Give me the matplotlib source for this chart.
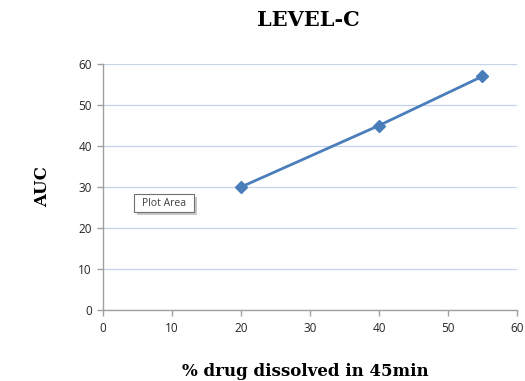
import matplotlib
matplotlib.use("Agg")
import matplotlib.pyplot as plt
from matplotlib.patches import FancyBboxPatch

# Data
dissolved = [20, 40, 55]
auc = [30, 45, 57]
x_ticks = [0, 10, 20, 30, 40, 50, 60]
y_ticks = [0, 10, 20, 30, 40, 50, 60]

W, H = 525, 381
fig = plt.figure(figsize=(W / 100, H / 100), dpi=100)
fig.patch.set_facecolor("white")

# axes box in pixels: left 103, right 517, top 64, bottom 310
ax = fig.add_axes([103 / W, 1 - 310 / H, (517 - 103) / W, (310 - 64) / H])
ax.set_xlim(0, 60)
ax.set_ylim(0, 60)
ax.set_xticks(x_ticks)
ax.set_yticks(y_ticks)

ax.grid(axis="y", color="#c5d3ea", linewidth=0.9)
ax.set_axisbelow(True)
for s in ["top", "right"]:
    ax.spines[s].set_visible(False)
for s in ["left", "bottom"]:
    ax.spines[s].set_color("#a0a0a0")
    ax.spines[s].set_linewidth(1.0)
ax.tick_params(axis="both", colors="#a0a0a0", length=4, width=1.0,
               labelcolor="#262626", labelsize=8.5)
for lab in ax.get_xticklabels() + ax.get_yticklabels():
    lab.set_family("Open Sans")
ax.tick_params(axis="x", pad=5)
ax.tick_params(axis="y", pad=4)

ax.plot(dissolved, auc, color="#4a7ebb", linewidth=2.0, marker="D",
        markersize=6, markerfacecolor="#4a7ebb", markeredgecolor="#4a7ebb",
        clip_on=False, zorder=3)

serif = "DejaVu Serif"
fig.text(308 / W, 1 - 20 / H, "LEVEL-C",
         ha="center", va="center", fontsize=15, fontweight="bold",
         family=serif)
fig.text(43 / W, 1 - 187 / H, "AUC", ha="center", va="center",
         rotation=90, fontsize=12, fontweight="bold", family=serif)
fig.text(305 / W, 1 - 372 / H, "% drug dissolved in 45min", ha="center",
         va="center", fontsize=12, fontweight="bold", family=serif)

# "Plot Area" tooltip box
shadow = FancyBboxPatch((137 / W, 1 - 215 / H), 60 / W, 18 / H,
                        boxstyle="square,pad=0", transform=fig.transFigure,
                        facecolor="#c8c8c8", edgecolor="none", zorder=5)
box = FancyBboxPatch((134 / W, 1 - 212 / H), 60 / W, 18 / H,
                     boxstyle="square,pad=0", transform=fig.transFigure,
                     facecolor="white", edgecolor="#707070", linewidth=0.8,
                     zorder=6)
fig.add_artist(shadow)
fig.add_artist(box)
fig.text(164 / W, 1 - 203 / H, "Plot Area", ha="center", va="center",
         fontsize=7.5, color="#404040", family="Open Sans", zorder=7)

fig.savefig("out.png", dpi=100)
